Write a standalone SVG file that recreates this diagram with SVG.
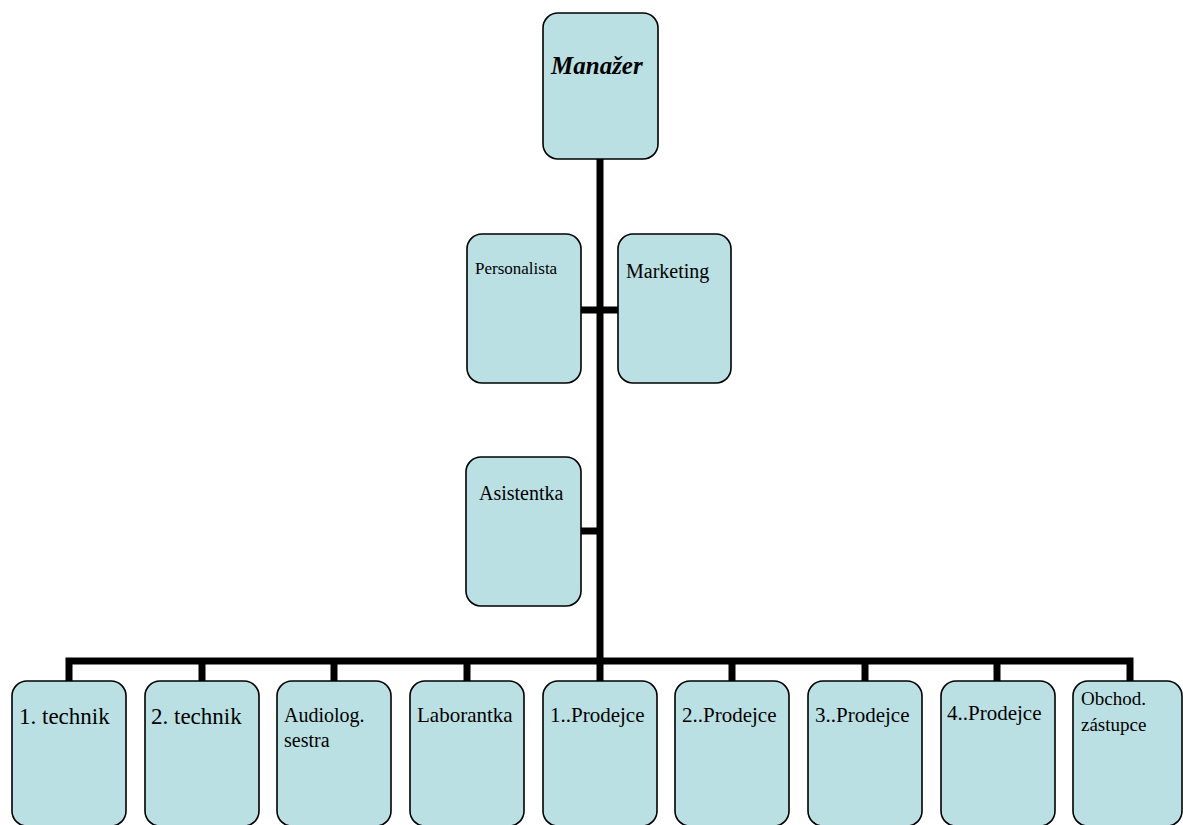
<svg xmlns="http://www.w3.org/2000/svg" width="1183" height="825" viewBox="0 0 1183 825">
<style>
.box{fill:#BBE0E3;stroke:#000;stroke-width:1.6}
.t{font-family:"Liberation Serif","Times New Roman",serif;fill:#000}
.ln{stroke:#000;stroke-width:7;fill:none}
</style>
<rect width="1183" height="825" fill="#fff"/>
<g id="connectors">
<line class="ln" x1="600" y1="159" x2="600" y2="681"/>
<line class="ln" x1="581" y1="310" x2="618" y2="310"/>
<line class="ln" x1="581" y1="531" x2="600" y2="531"/>
<path class="ln" d="M69 681 V661 H1130 V681"/>
<line class="ln" x1="202" y1="661" x2="202" y2="681"/>
<line class="ln" x1="334" y1="661" x2="334" y2="681"/>
<line class="ln" x1="467" y1="661" x2="467" y2="681"/>
<line class="ln" x1="732" y1="661" x2="732" y2="681"/>
<line class="ln" x1="865" y1="661" x2="865" y2="681"/>
<line class="ln" x1="997" y1="661" x2="997" y2="681"/>
</g>
<g id="manazer"><rect class="box" x="543" y="13" width="115" height="146" rx="15"/><text class="t" x="551" y="74" font-size="25" font-weight="bold" font-style="italic">Manažer</text></g>
<g id="personalista"><rect class="box" x="467" y="234" width="114" height="149" rx="15"/><text class="t" x="475" y="274" font-size="17">Personalista</text></g>
<g id="marketing"><rect class="box" x="618" y="234" width="113" height="149" rx="15"/><text class="t" x="626" y="278" font-size="20">Marketing</text></g>
<g id="asistentka"><rect class="box" x="466" y="457" width="115" height="149" rx="15"/><text class="t" x="479" y="500" font-size="20">Asistentka</text></g>
<g id="technik1"><rect class="box" x="12" y="681" width="114" height="145" rx="15"/><text class="t" x="19" y="724" font-size="23">1. technik</text></g>
<g id="technik2"><rect class="box" x="145" y="681" width="114" height="145" rx="15"/><text class="t" x="151" y="724" font-size="23">2. technik</text></g>
<g id="audiolog"><rect class="box" x="277" y="681" width="114" height="145" rx="15"/><text class="t" x="284" y="722" font-size="20">Audiolog.</text><text class="t" x="284" y="747" font-size="20">sestra</text></g>
<g id="laborantka"><rect class="box" x="410" y="681" width="114" height="145" rx="15"/><text class="t" x="417" y="722" font-size="21">Laborantka</text></g>
<g id="prodejce1"><rect class="box" x="543" y="681" width="114" height="145" rx="15"/><text class="t" x="550" y="722" font-size="21">1..Prodejce</text></g>
<g id="prodejce2"><rect class="box" x="675" y="681" width="114" height="145" rx="15"/><text class="t" x="682" y="722" font-size="21">2..Prodejce</text></g>
<g id="prodejce3"><rect class="box" x="808" y="681" width="114" height="145" rx="15"/><text class="t" x="815" y="722" font-size="21">3..Prodejce</text></g>
<g id="prodejce4"><rect class="box" x="941" y="681" width="114" height="145" rx="15"/><text class="t" x="947" y="720" font-size="21">4..Prodejce</text></g>
<g id="obchod"><rect class="box" x="1073" y="681" width="109" height="145" rx="15"/><text class="t" x="1081" y="705" font-size="19">Obchod.</text><text class="t" x="1081" y="731" font-size="19">zástupce</text></g>
</svg>
